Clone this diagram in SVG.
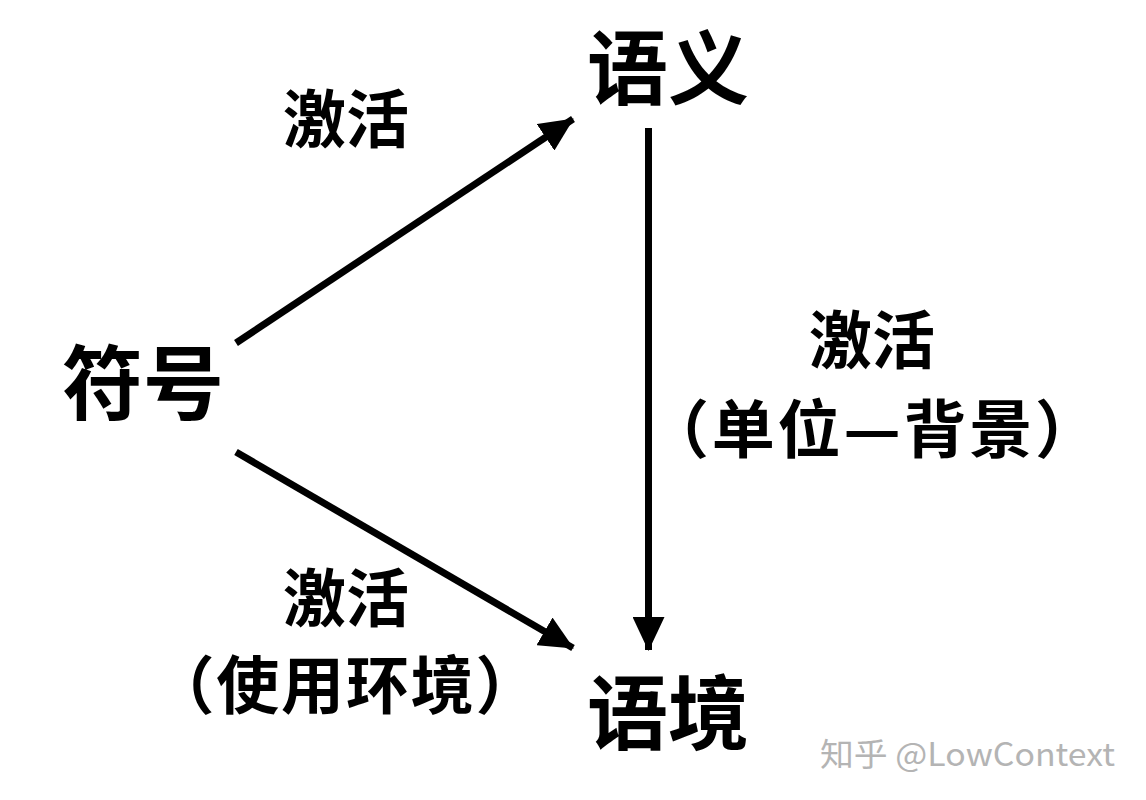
<svg xmlns="http://www.w3.org/2000/svg" width="1146" height="800" viewBox="0 0 1146 800">
<style>
.big{font-family:"Noto Sans CJK SC","Noto Sans",sans-serif;font-weight:700;font-size:81px;fill:#000;text-anchor:middle}
.lbl{font-family:"Noto Sans CJK SC","Noto Sans",sans-serif;font-weight:700;font-size:63px;fill:#000;text-anchor:middle}
.wm{font-family:"Noto Sans CJK SC","Noto Sans",sans-serif;font-size:32px;fill:#b4b4b4}
.edge{stroke:#000;stroke-width:7;fill:none;marker-end:url(#ah)}
</style>
<defs>
<marker id="ah" markerUnits="userSpaceOnUse" markerWidth="34" markerHeight="32" refX="33" refY="16" orient="auto" viewBox="0 0 34 32">
<path d="M0,0 L34,16 L0,32 Z" fill="#000"/>
</marker>
</defs>
<rect width="1146" height="800" fill="#fff"/>
<g id="connectors">
<line class="edge" x1="236" y1="343" x2="573" y2="119"/>
<line class="edge" x1="236" y1="452" x2="573" y2="648"/>
<line class="edge" x1="648.5" y1="128" x2="648.5" y2="650"/>
</g>
<g id="node-yuyi"><text class="big" x="668" y="98">语义</text></g>
<g id="node-fuhao"><text class="big" x="143" y="413">符号</text></g>
<g id="node-yujing"><text class="big" x="668" y="743">语境</text></g>
<g id="label-top"><text class="lbl" x="346" y="142">激活</text></g>
<g id="label-right"><text class="lbl" x="872" y="363">激活</text><text class="lbl" x="872" y="452" textLength="452" lengthAdjust="spacing">（单位—背景）</text></g>
<g id="label-bottom"><text class="lbl" x="346" y="621">激活</text><text class="lbl" x="345" y="708" textLength="387" lengthAdjust="spacing">（使用环境）</text></g>
<g id="watermark"><text class="wm" x="820" y="766" textLength="295" lengthAdjust="spacingAndGlyphs">知乎 @LowContext</text></g>
</svg>
